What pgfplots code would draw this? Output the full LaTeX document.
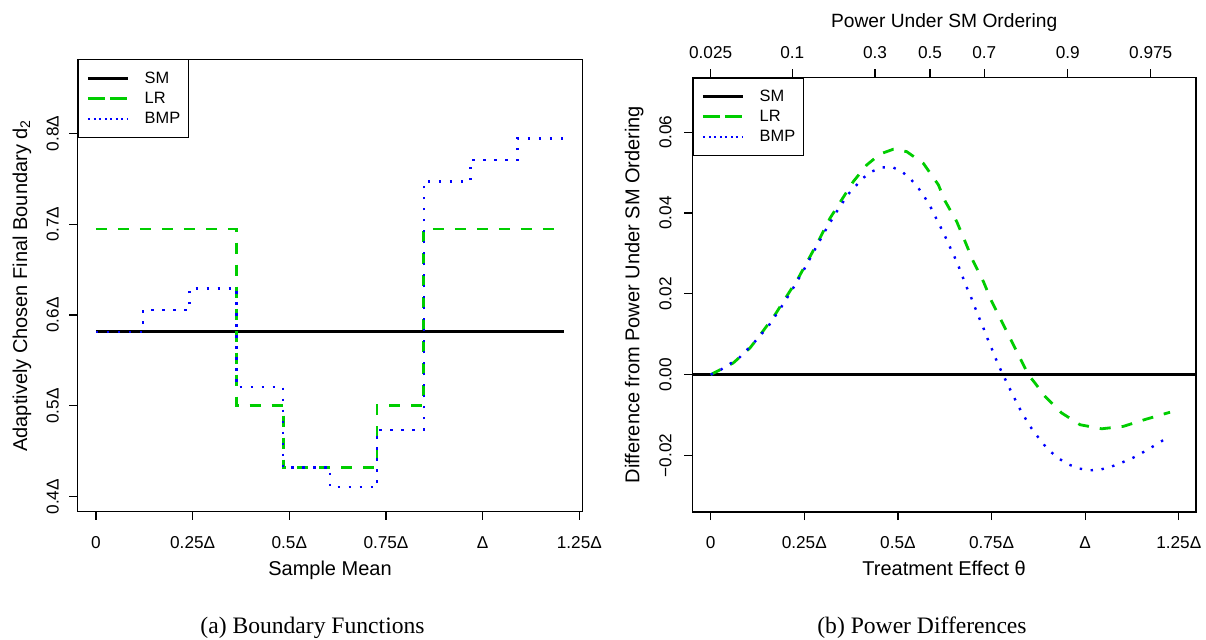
\documentclass[border=0pt]{standalone}
\usepackage{fontspec}
\setmainfont{Liberation Sans}
\newfontfamily\capfont{Liberation Serif}
\usepackage{pgfplots}
\pgfplotsset{compat=1.18}
\definecolor{rgreen}{RGB}{0,205,0}
\definecolor{rblue}{RGB}{0,0,255}
\pgfplotsset{
  rbase/.style={
    scale only axis,
    anchor=south west,
    scaled ticks=false,
    axis line style={line width=0.6pt, black},
    every tick/.style={line width=0.6pt, black},
    tick align=outside,
    major tick length=4pt,
    tick pos=left,
    ticklabel style={font=\fontsize{8.6}{10}\selectfont},
    label style={font=\fontsize{9.6}{11}\selectfont},
    xticklabel style={anchor=base, inner sep=0pt, yshift=-14.3pt},
    every axis x label/.style={at={(axis description cs:0.5,0)}, anchor=base, yshift=-31.7pt},
    legend cell align=left,
    legend image code/.code={\path (0pt,0pt) -- (20.2pt,0pt); \draw[##1] (3pt,0pt) -- (20.2pt,0pt);},
    legend style={at={(axis description cs:0,1)}, anchor=north west, draw=black, line width=0.6pt,
      inner xsep=4.2pt, inner ysep=5.2pt, font=\fontsize{8.2}{10}\selectfont,
      column sep=7.5pt, row sep=1.5pt,
      nodes={inner sep=0pt, text height=6.5pt, text depth=2pt}},
  },
  smline/.style={black, line width=1.5pt},
  lrline/.style={rgreen, line width=1.4pt, dash pattern=on 5.5pt off 5.5pt},
  bmpline/.style={rblue, line width=1.2pt, dash pattern=on 1.2pt off 4.3pt},
}
\begin{document}
\begin{tikzpicture}
\useasboundingbox (0pt,0pt) rectangle (603pt,319.5pt);
% ---------------- left panel
\begin{axis}[rbase,
  at={(38.65pt,63.65pt)},
  width=252.7pt, height=226.2pt,
  xmin=-0.0483, xmax=1.2587, ymin=0.3835, ymax=0.8816,
  xtick={0,0.25,0.5,0.75,1,1.25},
  xticklabels={0,0.25Δ,0.5Δ,0.75Δ,Δ,1.25Δ},
  ytick={0.4,0.5,0.6,0.7,0.8},
  yticklabels={0.4Δ,0.5Δ,0.6Δ,0.7Δ,0.8Δ},
  yticklabel style={inner sep=0pt, xshift=-5.3pt, rotate=90, anchor=base},
  every axis y label/.style={at={(axis description cs:0,0.5)}, xshift=-25.1pt, rotate=90, anchor=base},
  xlabel={Sample Mean},
  ylabel={Adaptively Chosen Final Boundary d\textsubscript{2}},
]
\addplot[smline] coordinates {(0,0.5816) (1.211,0.5816)};
\addlegendentry{SM}
\addplot[lrline, const plot] coordinates {
 (0,0.6947) (0.3633,0.5005) (0.4844,0.4321) (0.7266,0.5005) (0.8477,0.6947) (1.211,0.6947)};
\addlegendentry{LR}
\addplot[bmpline, const plot] coordinates {
 (0,0.5816) (0.1211,0.6055) (0.2422,0.6294) (0.3633,0.5206) (0.4844,0.4321) (0.6055,0.4104)
 (0.7266,0.4735) (0.8477,0.7470) (0.9688,0.7710) (1.0899,0.7945) (1.211,0.7945)};
\addlegendentry{BMP}
\end{axis}
% ---------------- right panel
\begin{axis}[rbase,
  at={(346.15pt,63.5pt)},
  width=251.85pt, height=217.35pt,
  xmin=-0.049, xmax=1.296, ymin=-0.034, ymax=0.0736,
  xtick={0,0.25,0.5,0.75,1,1.25},
  xticklabels={0,0.25Δ,0.5Δ,0.75Δ,Δ,1.25Δ},
  ytick={-0.02,0,0.02,0.04,0.06},
  yticklabels={−0.02,0.00,0.02,0.04,0.06},
  yticklabel style={inner sep=0pt, xshift=-6.5pt, rotate=90, anchor=base},
  every axis y label/.style={at={(axis description cs:0,0.5)}, xshift=-26.5pt, rotate=90, anchor=base},
  xlabel={Treatment Effect θ},
  ylabel={Difference from Power Under SM Ordering},
]
\addplot[smline] coordinates {(-0.049,0) (1.296,0)};
\addlegendentry{SM}
\addplot[lrline] coordinates {
 (0,0) (0.0604,0.0029) (0.105,0.0066) (0.136,0.0103) (0.1717,0.0148) (0.203,0.0194)
 (0.234,0.0239) (0.2652,0.0292) (0.2919,0.0338) (0.3186,0.0387) (0.35,0.0433) (0.381,0.0478)
 (0.4167,0.0519) (0.4522,0.0546) (0.4878,0.0558) (0.5235,0.0552) (0.568,0.0523) (0.608,0.0470)
 (0.6258,0.0430) (0.657,0.0379) (0.6792,0.0330) (0.7014,0.0280) (0.7281,0.0231) (0.7505,0.0181)
 (0.7772,0.0132) (0.804,0.0082) (0.8306,0.0033) (0.8483,0.0000) (0.8662,-0.0021) (0.8929,-0.0054)
 (0.9375,-0.0095) (0.9864,-0.0124) (1.0443,-0.0134) (1.102,-0.0128) (1.16,-0.0111) (1.2268,-0.0093)};
\addlegendentry{LR}
\addplot[bmpline] coordinates {
 (0,0) (0.0267,0.0012) (0.0756,0.0041) (0.1165,0.0080) (0.1549,0.0121) (0.1878,0.0166)
 (0.219,0.0212) (0.2492,0.0260) (0.2768,0.0307) (0.3045,0.0354) (0.3347,0.0401) (0.3676,0.0447)
 (0.406,0.0486) (0.4308,0.0503) (0.4585,0.0513) (0.487,0.0513) (0.5128,0.0501) (0.5342,0.0484)
 (0.5546,0.0462) (0.5716,0.0439) (0.5866,0.0416) (0.6,0.0391) (0.6125,0.0368) (0.6258,0.0343)
 (0.6374,0.0319) (0.65,0.0294) (0.6616,0.0269) (0.6721,0.0244) (0.6828,0.0218) (0.6944,0.0194)
 (0.7051,0.0168) (0.7158,0.0143) (0.7273,0.0118) (0.738,0.0092) (0.7495,0.0067) (0.7602,0.0042)
 (0.7719,0.0017) (0.7842,-0.0007) (0.7967,-0.0031) (0.81,-0.0056) (0.8234,-0.0081) (0.8376,-0.0104)
 (0.8528,-0.0128) (0.8697,-0.0149) (0.8876,-0.0171) (0.9081,-0.0191) (0.9303,-0.0208) (0.9551,-0.0222)
 (0.9818,-0.0232) (1.0112,-0.0237) (1.0406,-0.0235) (1.0692,-0.0228) (1.0967,-0.0218) (1.1234,-0.0208)
 (1.1493,-0.0195) (1.1752,-0.0181) (1.2,-0.0167) (1.2249,-0.0153)};
\addlegendentry{BMP}
\end{axis}
% ---------------- top axis of right panel
\begin{axis}[
  scale only axis, anchor=south west,
  at={(346.15pt,63.5pt)},
  width=251.85pt, height=217.35pt,
  xmin=-0.049, xmax=1.296, ymin=-0.034, ymax=0.0736,
  scaled ticks=false,
  axis x line*=top, axis y line=none,
  axis line style={line width=0.6pt, black},
  every tick/.style={line width=0.6pt, black},
  tick align=outside, major tick length=4pt,
  xtick={0,0.218,0.4389,0.5857,0.7308,0.9535,1.1752},
  xticklabels={0.025,0.1,0.3,0.5,0.7,0.9,0.975},
  ticklabel style={font=\fontsize{8.6}{10}\selectfont},
  xticklabel style={anchor=base, inner sep=0pt, yshift=5.5pt},
  every axis x label/.style={at={(axis description cs:0.5,1)}, anchor=base, yshift=25.1pt},
  label style={font=\fontsize{9.6}{11}\selectfont},
  xlabel={Power Under SM Ordering},
]
\end{axis}
% ---------------- captions
\node[anchor=base, font=\capfont\fontsize{11.8}{14}\selectfont, inner sep=0pt] at (156.25pt,3pt) {(a) Boundary Functions};
\node[anchor=base, font=\capfont\fontsize{11.8}{14}\selectfont, inner sep=0pt] at (461pt,3pt) {(b) Power Differences};
\end{tikzpicture}
\end{document}
